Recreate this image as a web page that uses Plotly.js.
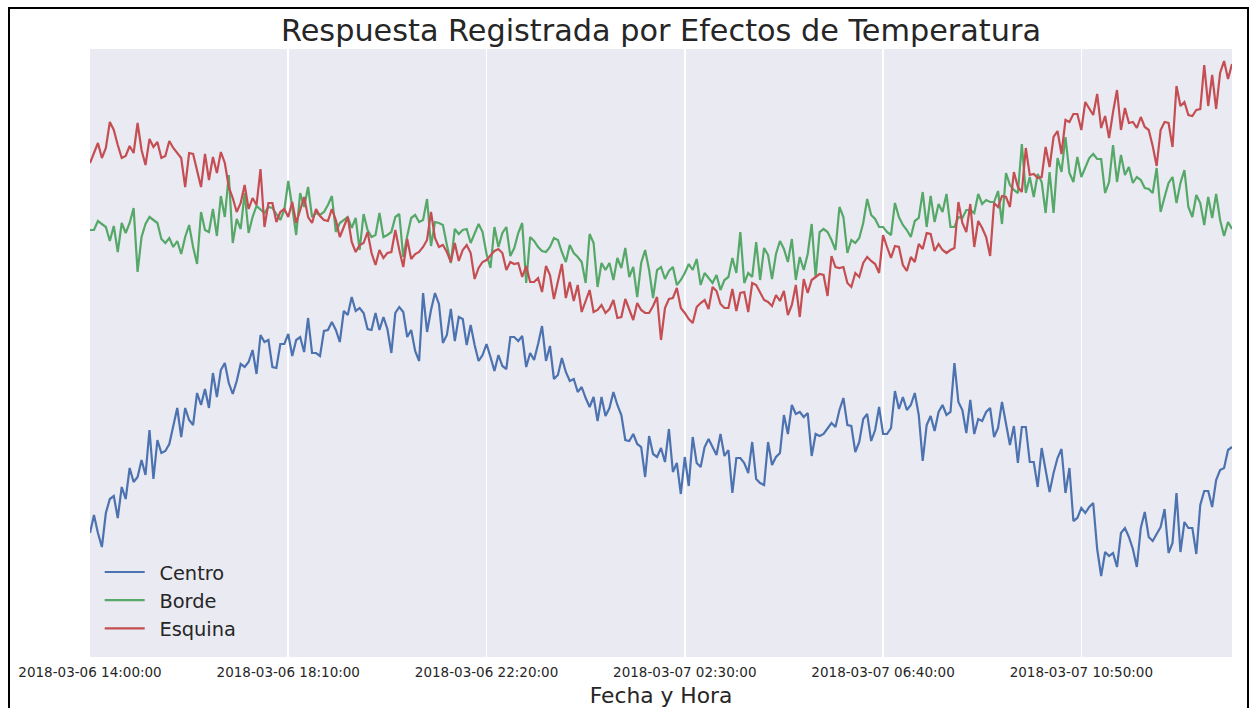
<!DOCTYPE html>
<html>
<head>
<meta charset="utf-8">
<script src="https://cdn.plot.ly/plotly-3.0.1.min.js"></script>
<style>
  html, body { margin: 0; padding: 0; background: #ffffff; }
  #wrap { position: relative; width: 1257px; height: 708px; overflow: hidden; }
  #chart { position: absolute; left: 0; top: 0; width: 1257px; height: 708px; }
  #frame { position: absolute; left: 8px; top: 7px; width: 1241px; height: 720px;
           border: 2px solid #000; pointer-events: none; box-sizing: border-box; }
</style>
</head>
<body>
<div id="wrap"><div id="chart"></div><div id="frame"></div></div>
<script>
// Time axis: 5-minute readings starting 2018-03-06 14:00:00
const startTime = "2018-03-06T14:00:00";
const stepMinutes = 5;

const tickLabels = ["2018-03-06 14:00:00", "2018-03-06 18:10:00", "2018-03-06 22:20:00",
                    "2018-03-07 02:30:00", "2018-03-07 06:40:00", "2018-03-07 10:50:00"];

const seriesNames = ["Centro", "Borde", "Esquina"];

// Centro (blue)
const centro = [
  124,142,124,110,144,158,161,139,170,158,
  189,175,180,197,182,227,178,217,204,206,
  213,230,249,220,249,237,232,264,252,268,
  249,284,260,287,294,274,263,276,293,290,
  295,307,283,322,315,317,290,289,313,313,
  323,301,317,320,305,339,304,304,301,326,
  327,335,327,315,346,342,360,346,349,344,
  328,327,344,327,340,328,304,344,350,345,
  320,327,306,296,364,325,347,364,353,314,
  322,348,316,340,338,312,332,312,296,302,
  313,300,286,302,291,288,320,320,316,321,
  290,304,297,313,331,296,311,278,282,299,
  285,276,278,265,270,259,250,260,236,260,
  241,249,265,252,242,217,216,223,213,210,
  180,221,203,200,209,195,228,185,194,163,
  200,171,220,194,190,210,218,210,202,223,
  201,207,164,199,199,194,184,215,178,174,
  172,215,192,200,204,242,223,252,243,245,
  240,244,201,223,221,223,228,234,230,247,
  259,232,231,205,215,238,243,216,227,250,
  223,223,229,266,248,260,247,252,264,242,
  196,232,241,226,245,252,242,245,294,255,
  247,224,257,223,238,236,245,249,220,229,
  255,234,212,231,194,230,230,195,195,170,
  209,187,165,184,199,208,164,189,136,139,
  149,144,150,154,108,81,105,101,104,90,
  124,129,120,108,90,129,145,120,116,123,
  130,148,104,114,164,105,135,129,129,103,
  152,166,166,150,177,187,189,207,210
];

// Borde (green)
const borde = [
  427,427,436,433,430,416,431,405,434,424,
  434,449,385,420,433,440,437,434,418,414,
  419,410,416,403,420,432,410,393,445,427,
  425,448,421,461,440,482,414,438,428,464,
  424,440,451,447,444,450,449,443,437,447,
  476,450,422,464,450,470,440,444,442,445,
  452,461,425,434,437,440,429,439,407,443,
  427,420,422,444,420,422,425,440,443,400,
  421,439,442,435,437,458,411,435,434,432,
  412,394,428,423,427,428,414,424,433,425,
  403,389,430,410,424,430,401,409,424,434,
  374,420,416,410,406,405,410,419,417,405,
  395,412,404,400,395,374,423,414,370,394,
  387,394,377,399,389,409,380,390,360,394,
  407,387,359,387,390,378,386,390,372,377,
  384,393,387,398,372,384,379,374,382,367,
  377,380,399,384,425,374,384,380,415,377,
  409,402,378,403,416,408,395,418,377,400,
  387,403,433,380,425,428,425,417,407,450,
  440,404,417,414,419,434,458,442,438,430,
  430,425,422,454,440,432,427,420,436,439,
  465,430,461,435,453,445,463,430,430,440,
  439,447,447,444,463,453,457,455,455,466,
  433,484,472,467,464,513,464,480,460,483,
  475,444,485,444,499,485,520,484,475,500,
  480,490,499,503,498,498,464,475,512,475,
  502,482,490,474,480,477,469,468,464,489,
  445,460,474,480,454,474,487,450,440,462,
  454,432,460,439,463,437,421,435,428
];

// Esquina (red)
const esquina = [
  494,504,514,499,509,535,527,512,499,501,
  511,504,534,507,492,518,510,515,499,501,
  516,509,504,499,470,504,503,485,470,503,
  477,500,484,505,494,470,459,445,454,472,
  448,459,452,488,430,454,454,435,445,448,
  440,455,434,447,460,440,434,448,441,437,
  436,448,437,420,430,440,415,405,412,414,
  425,404,392,407,399,404,405,427,407,390,
  418,398,403,405,410,417,445,419,410,412,
  405,395,414,396,407,412,404,378,389,395,
  397,401,406,408,404,387,395,393,394,380,
  391,375,375,379,365,391,382,358,374,393,
  359,375,356,372,345,356,367,345,347,352,
  344,348,357,339,340,358,347,337,354,347,
  344,344,351,360,317,349,358,359,369,349,
  344,338,334,350,354,357,348,370,366,353,
  349,349,368,346,364,365,345,374,372,364,
  357,355,351,362,356,366,342,352,372,340,
  378,364,377,380,383,382,361,401,390,389,
  390,374,370,384,380,394,400,396,393,384,
  422,410,399,411,410,392,386,400,395,413,
  408,424,423,406,413,407,404,407,409,455,
  434,425,453,410,436,429,420,401,454,450,
  461,460,450,485,470,465,509,482,483,479,
  480,510,490,520,526,503,537,535,543,543,
  527,555,549,542,563,529,541,519,545,567,
  527,549,534,535,529,540,530,527,511,491,
  527,535,534,510,571,551,555,542,541,547,
  548,592,551,582,548,584,596,578,593
];

const colors = ["#4C72B0", "#55A868", "#C44E52"];

function fmt(d) {
  const p = n => String(n).padStart(2, "0");
  return d.getFullYear() + "-" + p(d.getMonth() + 1) + "-" + p(d.getDate()) + " " +
         p(d.getHours()) + ":" + p(d.getMinutes()) + ":" + p(d.getSeconds());
}
const t0 = new Date(startTime);
function timesFor(n) {
  const out = [];
  for (let i = 0; i < n; i++) out.push(fmt(new Date(t0.getTime() + i * stepMinutes * 60000)));
  return out;
}
const n = Math.max(centro.length, borde.length, esquina.length);
const times = timesFor(n);
const tickVals = tickLabels.slice();

// small leading gap between legend line and label (matches reference spacing)
const legendGap = "\u2002";

const data = [centro, borde, esquina].map((ys, k) => ({
  type: "scatter", mode: "lines", name: legendGap + seriesNames[k],
  x: times.slice(0, ys.length), y: ys,
  line: { color: colors[k], width: 2.2 }
}));

const font = "DejaVu Sans, sans-serif";
const layout = {
  width: 1257, height: 708,
  margin: { l: 90, r: 25, t: 49, b: 51, pad: 0 },
  paper_bgcolor: "#ffffff",
  plot_bgcolor: "#EAEAF2",
  font: { family: font, color: "#262626" },
  title: { text: "Respuesta Registrada por Efectos de Temperatura",
           font: { family: font, size: 30.3, color: "#262626" },
           x: 0.5, xref: "paper", xanchor: "center", y: 1 - 30 / 708, yref: "container", yanchor: "middle" },
  xaxis: {
    type: "date",
    range: [times[0], times[n - 1]],
    tickvals: tickVals, ticktext: tickLabels,
    tickfont: { family: font, size: 13.5, color: "#262626" },
    ticks: "", showline: false, zeroline: false,
    showgrid: true, gridcolor: "#ffffff", gridwidth: 1.6,
    ticklabelstandoff: 5,
    title: { text: "Fecha y Hora", font: { family: font, size: 21.8, color: "#262626" }, standoff: 9 },
    automargin: false
  },
  yaxis: {
    range: [0, 608],
    showticklabels: false, showgrid: false, zeroline: false, showline: false, ticks: "",
    automargin: false
  },
  showlegend: true,
  legend: {
    x: 0.0085, y: 0.015, xanchor: "left", yanchor: "bottom",
    bgcolor: "rgba(0,0,0,0)", borderwidth: 0,
    itemwidth: 40,
    font: { family: font, size: 19.4, color: "#262626" },
    tracegroupgap: 0
  }
};

Plotly.newPlot("chart", data, layout, { displayModeBar: false, staticPlot: true });
</script>
</body>
</html>
